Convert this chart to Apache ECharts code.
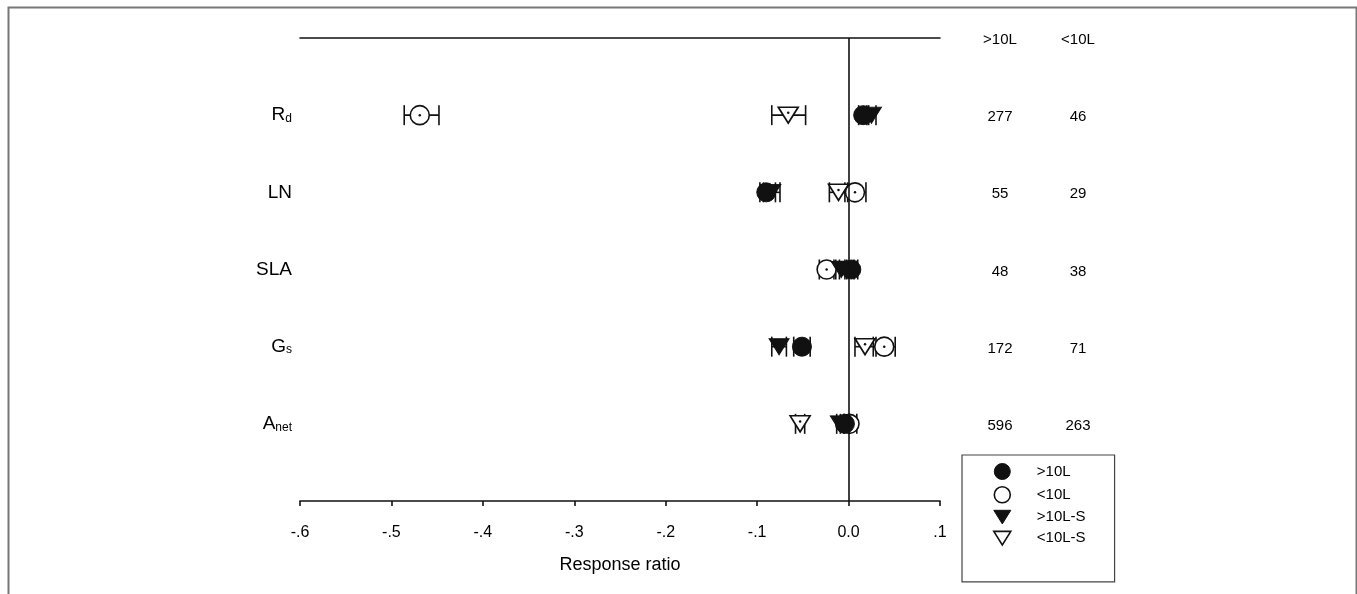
<!DOCTYPE html>
<html>
<head>
<meta charset="utf-8">
<script src="https://cdn.jsdelivr.net/npm/echarts@6/dist/echarts.min.js"></script>
<style>
  html, body { margin: 0; padding: 0; background: #fff; }
  #chart { width: 1357px; height: 594px; }
</style>
</head>
<body>
<div id="chart"></div>
<script>
// variables, top to bottom (row position on the y scale)
var categories = ['Rd', 'LN', 'SLA', 'Gs', 'Anet'];
var rowPos = [5, 4, 3, 2, 1];

// response ratio means and CI ends, one array per group
var gt10Mean = [0.016, -0.090, 0.003, -0.051, -0.004];
var gt10Lo   = [0.011, -0.097, -0.004, -0.060, -0.009];
var gt10Hi   = [0.022, -0.080, 0.010, -0.042, 0.001];

var lt10Mean = [-0.469, 0.007, -0.024, 0.039, 0.001];
var lt10Lo   = [-0.486, -0.004, -0.032, 0.027, -0.005];
var lt10Hi   = [-0.448, 0.019, -0.016, 0.051, 0.009];

var gt10SMean = [0.025, -0.085, -0.008, -0.076, -0.009];
var gt10SLo   = [0.020, -0.093, -0.014, -0.084, -0.013];
var gt10SHi   = [0.030, -0.075, -0.002, -0.068, -0.005];

var lt10SMean = [-0.066, -0.011, -0.002, 0.018, -0.053];
var lt10SLo   = [-0.084, -0.021, -0.010, 0.007, -0.058];
var lt10SHi   = [-0.047, -0.001, 0.006, 0.030, -0.048];

// sample sizes shown on the right
var tableCols = ['>10L', '<10L'];
var nGt10 = [277, 55, 48, 172, 596];
var nLt10 = [46, 29, 38, 71, 263];

var tickLabels = {'-0.6': '-.6', '-0.5': '-.5', '-0.4': '-.4', '-0.3': '-.3',
  '-0.2': '-.2', '-0.1': '-.1', '0': '0.0', '0.1': '.1'};

var rowLabels = {
  'Rd': '{m|R}{s|d}',
  'LN': '{m|LN}',
  'SLA': '{m|SLA}',
  'Gs': '{m|G}{s|s}',
  'Anet': '{m|A}{s|net}'
};

var FONT = 'Liberation Sans, Arial, sans-serif';
var INK = '#000';
var triDown = 'path://M0,0 L20,0 L10,16 Z';

function zipBars(mean, lo, hi) {
  return mean.map(function (m, i) { return [m, rowPos[i], lo[i], hi[i]]; });
}
function zipPts(mean) {
  return mean.map(function (m, i) { return [m, rowPos[i]]; });
}

function errorBar(params, api) {
  var y = api.value(1);
  var p1 = api.coord([api.value(2), y]);
  var p2 = api.coord([api.value(3), y]);
  var h = 10;
  var st = { stroke: '#111', lineWidth: 1.6 };
  return {
    type: 'group',
    children: [
      { type: 'line', shape: { x1: p1[0], y1: p1[1], x2: p2[0], y2: p2[1] }, style: st },
      { type: 'line', shape: { x1: p1[0], y1: p1[1] - h, x2: p1[0], y2: p1[1] + h }, style: st },
      { type: 'line', shape: { x1: p2[0], y1: p2[1] - h, x2: p2[0], y2: p2[1] + h }, style: st }
    ]
  };
}

function barSeries(name, mean, lo, hi) {
  return {
    name: name + ' CI', type: 'custom', renderItem: errorBar,
    xAxisIndex: 0, yAxisIndex: 0, silent: true,
    encode: { x: [0, 2, 3], y: 1 },
    data: zipBars(mean, lo, hi), z: 2
  };
}

var openStyle = { color: '#fff', borderColor: '#111', borderWidth: 1.6, opacity: 1 };
var fillStyle = { color: '#111', borderColor: '#111', borderWidth: 1, opacity: 1 };

var series = [
  barSeries('<10L', lt10Mean, lt10Lo, lt10Hi),
  barSeries('<10L-S', lt10SMean, lt10SLo, lt10SHi),
  barSeries('>10L', gt10Mean, gt10Lo, gt10Hi),
  barSeries('>10L-S', gt10SMean, gt10SLo, gt10SHi),
  {
    name: '<10L', type: 'scatter', symbol: 'circle', symbolSize: 19,
    itemStyle: openStyle, data: zipPts(lt10Mean), z: 3, silent: true,
    markLine: {
      silent: true, symbol: 'none', label: { show: false },
      lineStyle: { color: '#111', width: 1.6, type: 'solid', opacity: 1 },
      data: [{ xAxis: 0 }]
    }
  },
  {
    name: '<10L-S', type: 'scatter', symbol: triDown, symbolSize: [20, 16],
    itemStyle: openStyle, data: zipPts(lt10SMean), z: 3, silent: true
  },
  {
    name: '>10L-S', type: 'scatter', symbol: triDown, symbolSize: [20, 16],
    itemStyle: fillStyle, data: zipPts(gt10SMean), z: 4, silent: true
  },
  {
    name: '>10L', type: 'scatter', symbol: 'circle', symbolSize: 19,
    itemStyle: fillStyle, data: zipPts(gt10Mean), z: 4, silent: true
  },
  {
    name: 'dots', type: 'scatter', symbol: 'circle', symbolSize: 2.5,
    itemStyle: { color: '#111', opacity: 1 }, z: 5, silent: true,
    data: zipPts(lt10Mean).concat(zipPts(lt10SMean).map(function (p) { return [p[0], p[1] + 0.03]; }))
  }
];

// sample-size table in its own grid
var tableData = [];
tableCols.forEach(function (c) { tableData.push([c, 6, c]); });
categories.forEach(function (c, i) {
  tableData.push([tableCols[0], rowPos[i], String(nGt10[i])]);
  tableData.push([tableCols[1], rowPos[i], String(nLt10[i])]);
});
series.push({
  name: 'table', type: 'scatter', xAxisIndex: 2, yAxisIndex: 1,
  symbolSize: 0, silent: true, data: tableData,
  itemStyle: { opacity: 1 },
  label: {
    show: true, position: 'inside', color: INK, fontFamily: FONT, fontSize: 15,
    offset: [0, 2],
    formatter: function (p) { return p.value[2]; }
  }
});

var chart = echarts.init(document.getElementById('chart'));
chart.setOption({
  animation: false,
  backgroundColor: '#fff',
  graphic: [{
    type: 'rect', left: 6, top: 5, shape: { width: 1348, height: 600 },
    style: { fill: 'none', stroke: '#777', lineWidth: 2 }, silent: true, z: -1
  }],
  grid: [
    { left: 300, right: 417, top: 38, bottom: 93 },
    { left: 961, width: 156, top: 38, bottom: 93 }
  ],
  xAxis: [
    {
      gridIndex: 0, type: 'value', min: -0.6, max: 0.1, interval: 0.1,
      name: 'Response ratio', nameLocation: 'middle', nameGap: 55,
      nameTextStyle: { color: INK, fontFamily: FONT, fontSize: 18 },
      axisLine: { show: true, onZero: false, lineStyle: { color: '#111', width: 1.6 } },
      axisTick: { show: true, length: 5, lineStyle: { color: '#111', width: 1.6 } },
      axisLabel: {
        color: INK, fontFamily: FONT, fontSize: 16, margin: 24,
        formatter: function (v) { return tickLabels[String(Math.round(v * 10) / 10)] || ''; }
      },
      splitLine: { show: false }
    },
    {
      gridIndex: 0, type: 'value', position: 'top', min: -0.6, max: 0.1,
      axisLine: { show: true, onZero: false, lineStyle: { color: '#111', width: 1.6 } },
      axisTick: { show: false }, axisLabel: { show: false }, splitLine: { show: false }
    },
    {
      gridIndex: 1, type: 'category', data: tableCols, show: false
    }
  ],
  yAxis: [
    {
      gridIndex: 0, type: 'value', min: 0, max: 6, interval: 1,
      axisLine: { show: false }, axisTick: { show: false }, splitLine: { show: false },
      axisLabel: {
        margin: 8,
        formatter: function (v) {
          var i = rowPos.indexOf(v);
          return i < 0 ? '' : rowLabels[categories[i]];
        },
        rich: {
          m: { color: INK, fontFamily: FONT, fontSize: 19 },
          s: { color: INK, fontFamily: FONT, fontSize: 12, padding: [7, 0, 0, 0] }
        }
      }
    },
    {
      gridIndex: 1, type: 'value', min: 0, max: 6, show: false
    }
  ],
  legend: {
    orient: 'vertical', left: 962, top: 455,
    padding: [8, 29, 36, 31], itemGap: 6,
    itemWidth: 17, itemHeight: 16,
    borderColor: '#444', borderWidth: 1.2, backgroundColor: '#fff',
    selectedMode: false,
    textStyle: { color: INK, fontFamily: FONT, fontSize: 15, width: 60, padding: [0, 0, 0, 21] },
    data: [
      { name: '>10L', icon: 'circle', itemStyle: fillStyle },
      { name: '<10L', icon: 'circle', itemStyle: openStyle },
      { name: '>10L-S', icon: triDown, itemStyle: fillStyle },
      { name: '<10L-S', icon: triDown, itemStyle: openStyle }
    ]
  },
  series: series
});
</script>
</body>
</html>
